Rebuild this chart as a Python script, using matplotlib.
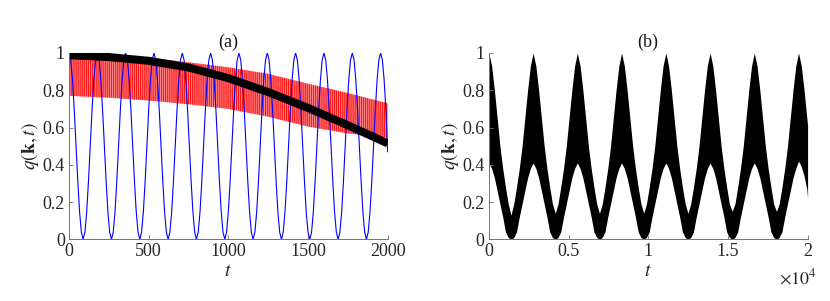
import numpy as np
import matplotlib
matplotlib.use('Agg')
import matplotlib.pyplot as plt
from matplotlib.ticker import FuncFormatter

plt.rcParams['font.family'] = ['Liberation Serif', 'DejaVu Serif']
plt.rcParams['mathtext.fontset'] = 'stix'
plt.rcParams['hatch.linewidth'] = 0.9

# ---- panel (a) data ----
# blue curve: samples every 1/16 of its period (period ~177.8)
t_blue = np.linspace(0, 2000, 181)
q_blue = [1, .962, .854, .691, .5, .309, .146, .038, 0, .038, .146, .309, .5, .691, .854, .962,
          1, .962, .854, .691, .5, .309, .146, .038, 0, .038, .146, .309, .5, .691, .854, .962,
          1, .962, .854, .691, .5, .309, .146, .038, 0, .038, .146, .309, .5, .691, .854, .962,
          1, .962, .854, .691, .5, .309, .146, .038, 0, .038, .146, .309, .5, .691, .854, .962,
          1, .962, .854, .691, .5, .309, .146, .038, 0, .038, .146, .309, .5, .691, .854, .962,
          1, .962, .854, .691, .5, .309, .146, .038, 0, .038, .146, .309, .5, .691, .854, .962,
          1, .962, .854, .691, .5, .309, .146, .038, 0, .038, .146, .309, .5, .691, .854, .962,
          1, .962, .854, .691, .5, .309, .146, .038, 0, .038, .146, .309, .5, .691, .854, .962,
          1, .962, .854, .691, .5, .309, .146, .038, 0, .038, .146, .309, .5, .691, .854, .962,
          1, .962, .854, .691, .5, .309, .146, .038, 0, .038, .146, .309, .5, .691, .854, .962,
          1, .962, .854, .691, .5, .309, .146, .038, 0, .038, .146, .309, .5, .691, .854, .962,
          1, .962, .854, .691, .47]

# red band (fast oscillation) envelope and the thick black curve
t_env = [0, 250, 500, 750, 1000, 1250, 1500, 1750, 2000]
red_hi = [0.995, 0.99, 0.975, 0.95, 0.923, 0.888, 0.835, 0.785, 0.73]
red_lo = [0.77, 0.76, 0.745, 0.725, 0.70, 0.658, 0.605, 0.568, 0.545]
q_black = [0.988, 0.978, 0.958, 0.922, 0.865, 0.79, 0.705, 0.612, 0.515]

# ---- panel (b) data: envelope of the black band, every 1/16 period (~2776) ----
t_b = np.append(np.arange(0, 20000, 173.5), 20000)
b_hi = [1.0, .93, .80, .65, .50, .38, .28, .19, .13, .19, .28, .38, .50, .65, .80, .93,
        1.0, .93, .80, .65, .50, .38, .28, .19, .14, .19, .28, .38, .50, .65, .80, .93,
        1.0, .93, .80, .65, .50, .38, .28, .19, .14, .19, .28, .38, .50, .65, .80, .93,
        1.0, .93, .80, .65, .50, .38, .28, .19, .14, .19, .28, .38, .50, .65, .80, .93,
        1.0, .93, .80, .65, .50, .38, .28, .19, .14, .19, .28, .38, .50, .65, .80, .93,
        1.0, .93, .80, .65, .50, .38, .28, .19, .15, .19, .28, .38, .50, .65, .80, .93,
        1.0, .93, .80, .65, .50, .38, .28, .19, .15, .19, .28, .38, .50, .65, .80, .93,
        1.0, .93, .80, .65, .61]
b_lo = [.41, .38, .33, .26, .19, .12, .04, .01, 0, .01, .04, .12, .19, .26, .33, .38,
        .41, .38, .33, .26, .19, .12, .04, .01, 0, .01, .04, .12, .19, .26, .33, .38,
        .41, .38, .33, .26, .19, .12, .04, .01, 0, .01, .04, .12, .19, .26, .33, .38,
        .41, .38, .33, .26, .19, .12, .04, .01, 0, .01, .04, .12, .19, .26, .33, .38,
        .41, .38, .33, .26, .19, .12, .04, .01, 0, .01, .04, .12, .19, .26, .33, .38,
        .41, .38, .33, .26, .19, .12, .04, .01, 0, .01, .04, .12, .19, .26, .33, .38,
        .41, .38, .33, .26, .19, .12, .04, .01, 0, .01, .04, .12, .19, .26, .33, .38,
        .42, .39, .34, .27, .22]

yticks = [0, 0.2, 0.4, 0.6, 0.8, 1]
ytick_labels = ['0', '0.2', '0.4', '0.6', '0.8', '1']

fig = plt.figure(figsize=(8.3, 3.01), dpi=100)
ax1 = fig.add_axes([0.0831, 0.205, 0.384, 0.619])
ax2 = fig.add_axes([0.589, 0.205, 0.384, 0.619])


def style(ax, title):
    ax.set_ylim(0, 1)
    ax.set_yticks(yticks)
    ax.set_yticklabels(ytick_labels)
    for s in ['top', 'right']:
        ax.spines[s].set_visible(False)
    for s in ['left', 'bottom']:
        ax.spines[s].set_color('0.45')
        ax.spines[s].set_linewidth(0.7)
    ax.tick_params(direction='in', length=3, width=0.6, color='0.45',
                   labelsize=13, labelcolor='0.15', pad=3)
    ax.set_title(title, fontsize=13, pad=4, color='0.1')
    ax.set_xlabel('$t$', fontsize=14, labelpad=2, color='0.15')
    ax.set_ylabel(r'$q(\mathbf{k},t)$', fontsize=14, labelpad=1, color='0.15')


ax1.plot(t_blue, q_blue, color='#0000ff', lw=0.8)
ax1.fill_between(t_env, red_lo, red_hi, facecolor=(1, 0.5, 0.5, 0.8),
                 edgecolor=(1, 0, 0, 0.85), hatch='||||||||', lw=0)
ax1.plot(t_env, q_black, color='k', lw=5.8, solid_capstyle='butt')
ax1.set_xlim(0, 2000)
ax1.set_xticks([0, 500, 1000, 1500, 2000])
style(ax1, '(a)')

ax2.fill_between(t_b, b_lo, b_hi, color='k', lw=0)
ax2.set_xlim(0, 20000)
ax2.set_xticks([0, 5000, 10000, 15000, 20000])
ax2.xaxis.set_major_formatter(FuncFormatter(lambda v, _: f'{v / 1e4:g}'))
style(ax2, '(b)')
ax2.text(0.97, -0.21, r'$\times 10^{4}$', transform=ax2.transAxes,
         ha='center', va='center', fontsize=13, color='0.15')

fig.savefig('out.png', dpi=100)
